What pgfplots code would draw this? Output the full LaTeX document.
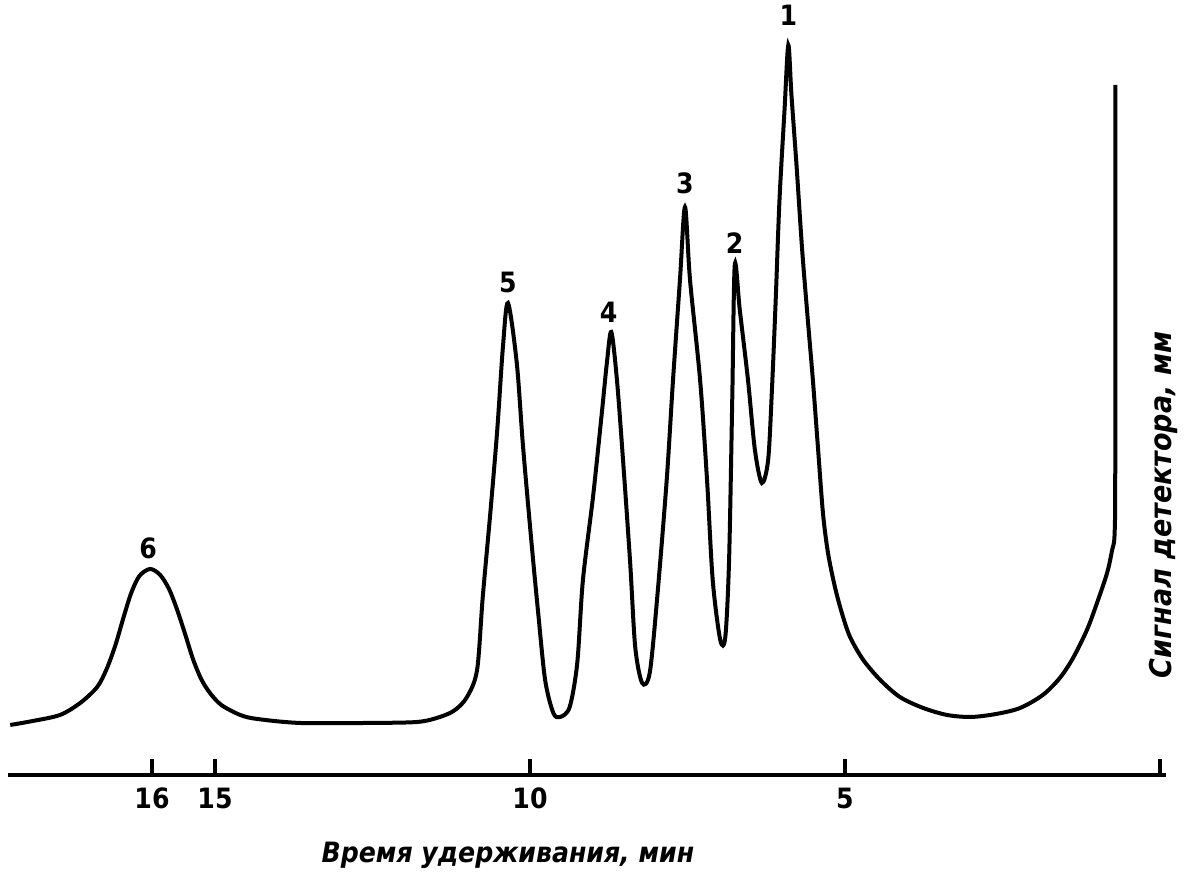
\documentclass[border=0pt]{standalone}
\usepackage{fontspec}
\setmainfont{DejaVu Sans Condensed}
\usepackage{pgfplots}
\pgfplotsset{compat=1.18}
\pgfplotstableread{
t s
18.25 50
17.89 54
17.46 60
17.14 72
16.87 88
16.72 106
16.58 130
16.45 158
16.33 182
16.20 199
16.03 206
15.87 200
15.73 186
15.60 165
15.47 140
15.35 116
15.22 96
15.08 82
14.90 70
14.60 60
14.33 56
13.65 52
12.59 52
11.79 53
11.43 58
11.19 65
11.00 78
10.84 105
10.75 178
10.63 262
10.52 345
10.43 428
10.35 472
10.21 412
10.11 328
9.97 228
9.87 162
9.76 95
9.63 62
9.52 58
9.37 68
9.25 112
9.16 195
9.00 278
8.86 362
8.78 412
8.71 443
8.62 395
8.52 312
8.41 212
8.33 128
8.22 92
8.10 102
7.98 178
7.83 295
7.73 395
7.62 495
7.54 568
7.46 495
7.30 395
7.19 295
7.10 195
6.98 135
6.90 138
6.84 215
6.79 375
6.75 510
6.67 465
6.54 395
6.43 325
6.32 292
6.22 315
6.16 385
6.10 475
6.04 575
5.96 665
5.90 730
5.85 680
5.77 610
5.68 525
5.59 455
5.51 395
5.43 328
5.35 262
5.27 222
5.16 188
5.05 162
4.92 138
4.71 115
4.44 95
4.13 78
3.76 67
3.38 60
3.00 58
2.60 61
2.22 67
1.86 80
1.59 97
1.38 117
1.16 145
1.00 172
0.84 202
0.76 225
0.72 242
0.71 320
0.71 690
}\chrom
\begin{document}
\begin{tikzpicture}
\begin{axis}[
  scale only axis,
  width=579pt, height=387.5pt,
  x dir=reverse,
  xmin=-0.09, xmax=18.29,
  ymin=0, ymax=775,
  axis x line=bottom,
  axis y line=none,
  axis line style={line width=2pt,-},
  xtick={16,15,10,5,0},
  xticklabels={16,15,10,5,},
  tick align=inside,
  major tick length=8pt,
  tick style={line width=1.6pt,black},
  xticklabel style={font=\fontsize{14}{14}\selectfont\bfseries, yshift=-3pt},
  /pgf/number format/assume math mode=true,
  clip=false,
]
\addplot[black, line width=2pt, smooth, tension=0.5] table[x=t,y=s] {\chrom};
\coordinate (bbA) at (axis cs:18.413,-100);
\coordinate (bbB) at (axis cs:-0.492,775);
\begin{scope}[font=\fontsize{14}{14}\selectfont\bfseries]
\node at (axis cs:5.90,760) {1};
\node at (axis cs:6.75,532) {2};
\node at (axis cs:7.54,592) {3};
\node at (axis cs:8.75,463) {4};
\node at (axis cs:10.35,492) {5};
\node at (axis cs:16.06,227) {6};
\end{scope}
\node[rotate=90, font=\fontsize{15}{15}\selectfont\bfseries\itshape] at (axis cs:-0.05,270) {Сигнал детектора, мм};
\node[font=\fontsize{14}{14}\selectfont\bfseries\itshape] at (axis cs:10.35,-80) {Время удерживания, мин};
\end{axis}
\pgfresetboundingbox
\path[use as bounding box] (bbA) rectangle (bbB);
\end{tikzpicture}
\end{document}
